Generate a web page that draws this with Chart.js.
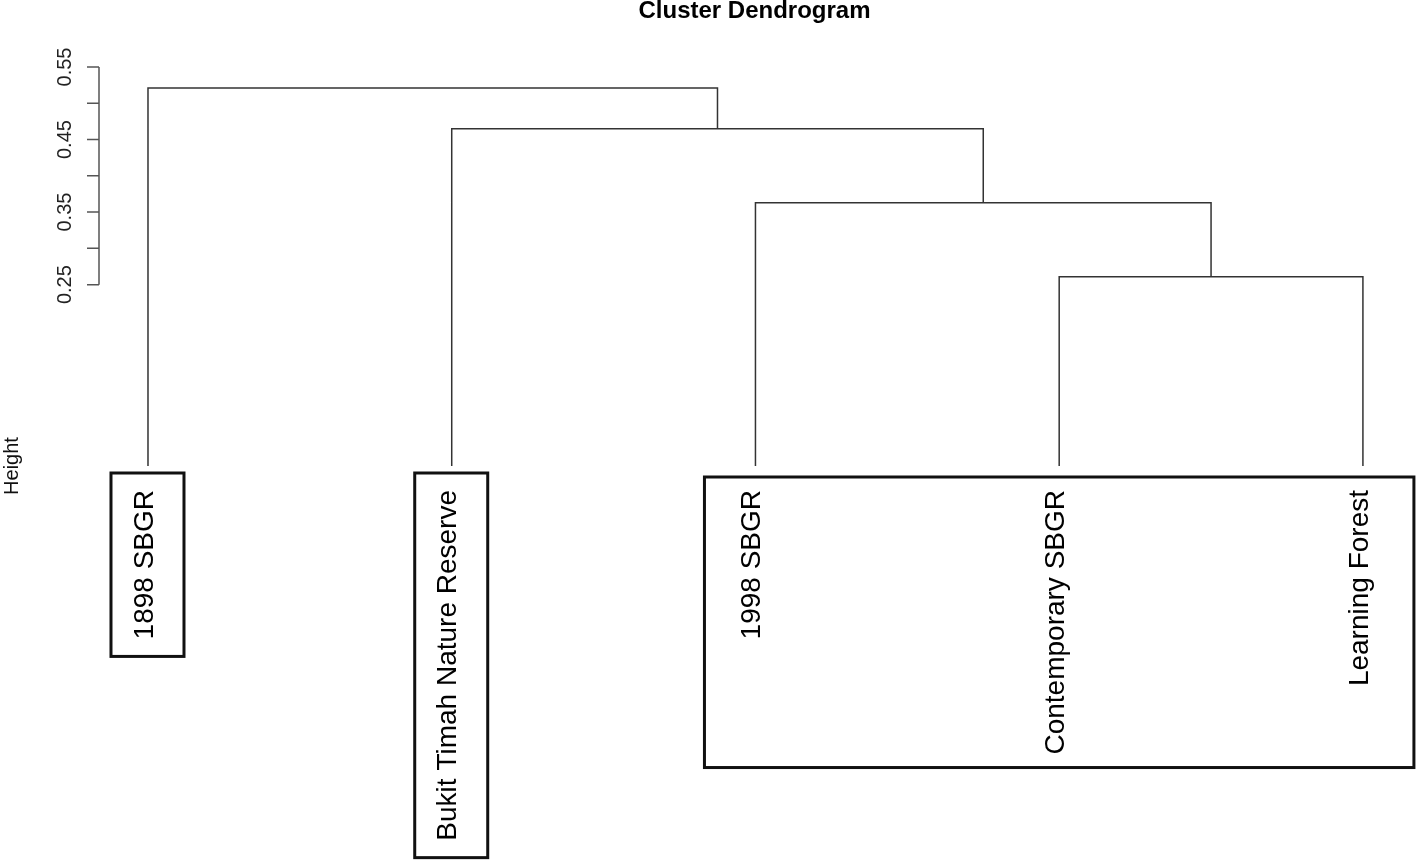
<!DOCTYPE html>
<html><head><meta charset="utf-8">
<script src="https://cdn.jsdelivr.net/npm/chart.js@4/dist/chart.umd.min.js"></script>
<style>html,body{margin:0;padding:0;background:#fff}#wrap{width:1416px;height:860px;position:relative}</style>
</head><body><div id="wrap"><canvas id="c"></canvas></div>
<script>
// ---- data ----
const leafLabels = ['1898 SBGR', 'Bukit Timah Nature Reserve', '1998 SBGR', 'Contemporary SBGR', 'Learning Forest'];
const leafHeights = [0, 0, 0, 0, 0];
// R-style merge matrix: negative = leaf index (1-based), positive = earlier merge step
const mergeA = [-4, -3, -2, -1];
const mergeB = [-5, 1, 2, 3];
const mergeHeights = [0.261, 0.363, 0.465, 0.521];
const yTicks = [0.25, 0.30, 0.35, 0.40, 0.45, 0.50, 0.55];
const yTickLabels = ['0.25', '', '0.35', '', '0.45', '', '0.55'];
const boxGroups = [[1], [2], [3, 4, 5]];
const titleText = 'Cluster Dendrogram';
const yTitle = 'Height';

const FONT = "'Liberation Sans', Arial, Helvetica, sans-serif";
const LABEL_SIZE = 28;

// ---- build dendrogram segments ----
const nodeX = [];
function node(id) {
  return id < 0 ? { x: -id, h: leafHeights[-id - 1] } : { x: nodeX[id - 1], h: mergeHeights[id - 1] };
}
const datasets = [];
mergeHeights.forEach((h, i) => {
  const a = node(mergeA[i]), b = node(mergeB[i]);
  nodeX[i] = (a.x + b.x) / 2;
  datasets.push({
    data: [{ x: a.x, y: a.h }, { x: a.x, y: h }, { x: b.x, y: h }, { x: b.x, y: b.h }],
    showLine: true, borderColor: '#333333', borderWidth: 1.5,
    pointRadius: 0, pointHoverRadius: 0, fill: false, tension: 0
  });
});

const decor = {
  id: 'decor',
  afterDraw(chart) {
    const ctx = chart.ctx, ys = chart.scales.y, xs = chart.scales.x;
    ctx.save();
    // y axis
    const ax = chart.chartArea.left;
    ctx.strokeStyle = '#555'; ctx.lineWidth = 1.5;
    ctx.beginPath();
    ctx.moveTo(ax, ys.getPixelForValue(yTicks[0]));
    ctx.lineTo(ax, ys.getPixelForValue(yTicks[yTicks.length - 1]));
    yTicks.forEach(v => {
      const p = ys.getPixelForValue(v);
      ctx.moveTo(ax - 12, p); ctx.lineTo(ax, p);
    });
    ctx.stroke();
    ctx.fillStyle = '#222';
    ctx.font = '20px ' + FONT;
    ctx.textAlign = 'center'; ctx.textBaseline = 'alphabetic';
    yTicks.forEach((v, i) => {
      if (!yTickLabels[i]) return;
      ctx.save();
      ctx.translate(ax - 28, ys.getPixelForValue(v));
      ctx.rotate(-Math.PI / 2);
      ctx.fillText(yTickLabels[i], 0, 0);
      ctx.restore();
    });
    // y title
    ctx.save();
    ctx.font = '20px ' + FONT;
    ctx.fillStyle = '#111';
    ctx.translate(18, chart.chartArea.bottom);
    ctx.rotate(-Math.PI / 2);
    ctx.fillText(yTitle, 0, 0);
    ctx.restore();
    // boxes around label groups
    ctx.font = LABEL_SIZE + 'px ' + FONT;
    ctx.strokeStyle = '#111'; ctx.lineWidth = 3;
    const labelTop = xs.top + 24;
    boxGroups.forEach(g => {
      const px = g.map(i => xs.getPixelForValue(i));
      const len = Math.max(...g.map(i => ctx.measureText(leafLabels[i - 1]).width));
      const single = g.length === 1;
      const l = Math.min(...px) - (single ? 37 : 51);
      const r = Math.min(Math.max(...px) + (single ? 36 : 51), chart.width - 2);
      const t = labelTop - (single ? 17 : 13);
      const b = labelTop + len + (single ? 17 : 13);
      ctx.strokeRect(l, t, r - l, b - t);
    });
    ctx.restore();
  }
};

new Chart(document.getElementById('c'), {
  type: 'scatter',
  data: { datasets },
  options: {
    animation: false, responsive: true, maintainAspectRatio: false,
    layout: { padding: { left: 99, right: 6, top: 0, bottom: 0 } },
    plugins: {
      legend: { display: false }, tooltip: { enabled: false },
      title: {
        display: true, text: titleText, color: '#000',
        font: { family: FONT, size: 24, weight: 'bold', lineHeight: 1.2 },
        padding: { top: -3, bottom: 41.2 }
      }
    },
    scales: {
      x: {
        type: 'linear', min: 0.8387, max: 5.155,
        afterBuildTicks: s => { s.ticks = leafLabels.map((_, i) => ({ value: i + 1 })); },
        afterFit: s => { s.height = 394; s.paddingLeft = 0; s.paddingRight = 0; },
        grid: { display: false, drawTicks: false }, border: { display: false },
        ticks: {
          autoSkip: false, minRotation: 90, maxRotation: 90, padding: 24, labelOffset: -3,
          color: '#000', font: { family: FONT, size: LABEL_SIZE },
          callback: v => leafLabels[Math.round(v) - 1]
        }
      },
      y: { type: 'linear', min: 0, max: 0.55, display: false }
    }
  },
  plugins: [decor]
});
</script></body></html>
